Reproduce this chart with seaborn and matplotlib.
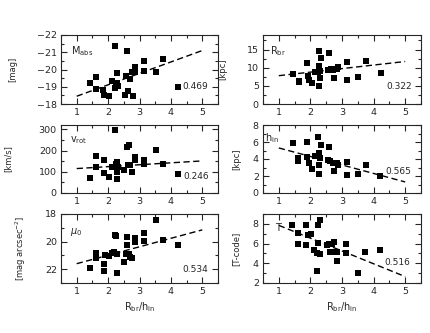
import numpy as np
import pandas as pd
import matplotlib
matplotlib.use("Agg")
import matplotlib.pyplot as plt
from matplotlib.ticker import MultipleLocator
import seaborn as sns

# ---------------- data ----------------
mabs_x = [1.42, 1.61, 1.61, 1.85, 1.88, 2.02, 2.11, 2.24, 2.27, 2.22, 2.29, 2.22, 2.32,
          2.59, 2.57, 2.53, 2.62, 2.69, 2.75, 2.78, 2.85, 2.87, 3.15, 3.15, 3.52, 3.75, 4.23]
mabs_y = [-19.2, -19.55, -18.87, -18.8, -18.52, -18.48, -19.35, -19.16, -19.78, -21.38, -19.2, -18.93, -19.06,
          -21.05, -19.64, -18.54, -18.77, -19.45, -19.87, -18.48, -19.84, -20.13, -20.47, -19.9, -19.87, -20.6, -19.0]

rbr_x = [1.44, 1.63, 1.63, 1.89, 1.92, 1.95, 2.06, 2.13, 2.24, 2.26, 2.27, 2.29, 2.27, 2.32, 2.30,
         2.55, 2.60, 2.66, 2.73, 2.76, 2.84, 2.88, 3.15, 3.15, 3.52, 3.76, 4.24]
rbr_y = [8.25, 6.4, 6.1, 11.25, 7.8, 6.65, 5.9, 8.9, 8.9, 14.6, 10.6, 7.1, 5.0, 12.75, 9.2,
         9.4, 14.05, 9.65, 9.4, 7.1, 9.65, 10.3, 11.5, 6.65, 7.3, 11.8, 8.5]

vrot_x = [1.42, 1.61, 1.61, 1.88, 1.88, 2.02, 2.11, 2.22, 2.25, 2.27, 2.29, 2.29, 2.32,
          2.51, 2.59, 2.67, 2.63, 2.69, 2.75, 2.85, 2.85, 3.15, 3.15, 3.52, 3.75, 4.23]
vrot_y = [72, 174, 122, 157, 94, 75, 122, 298, 138, 99, 146, 67, 122,
          107, 217, 224, 130, 130, 99, 170, 154, 157, 138, 204, 138, 91]

hin_x = [1.45, 1.62, 1.62, 1.89, 1.90, 1.94, 2.04, 2.13, 2.23, 2.26, 2.27, 2.27, 2.32, 2.29,
         2.55, 2.60, 2.63, 2.71, 2.76, 2.84, 2.88, 3.16, 3.16, 3.52, 3.76, 4.21]
hin_y = [5.83, 4.06, 3.8, 6.0, 4.25, 3.54, 2.87, 4.33, 6.62, 4.72, 3.27, 2.2, 5.63, 4.06,
         3.86, 5.43, 3.78, 3.54, 2.6, 3.54, 3.27, 3.66, 2.17, 2.2, 3.27, 2.0]

mu0_x = [1.42, 1.61, 1.61, 1.88, 1.88, 1.90, 2.02, 2.11, 2.22, 2.25, 2.20, 2.29, 2.29,
         2.51, 2.59, 2.59, 2.57, 2.67, 2.69, 2.75, 2.85, 2.85, 3.15, 3.15, 3.52, 3.75, 4.23]
mu0_y = [21.9, 20.8, 21.2, 21.6, 22.1, 20.95, 21.05, 20.8, 19.5, 19.6, 20.75, 20.9, 22.3,
         21.5, 19.7, 20.25, 20.9, 20.9, 21.15, 21.2, 19.75, 20.0, 19.4, 19.95, 18.45, 19.85, 20.25]

tt_x = [1.42, 1.61, 1.61, 1.86, 1.86, 1.93, 2.02, 2.10, 2.21, 2.24, 2.29, 2.24, 2.29, 2.21,
        2.53, 2.58, 2.63, 2.68, 2.76, 2.76, 2.84, 2.84, 3.14, 3.14, 3.50, 3.74, 4.21]
tt_y = [7.9, 7.1, 6.0, 7.85, 5.83, 6.83, 7.0, 5.3, 5.0, 7.9, 8.35, 6.1, 4.97, 3.17,
        5.83, 6.0, 5.1, 6.0, 6.2, 5.1, 5.1, 4.28, 5.93, 5.0, 3.0, 5.1, 5.35]

fit_x = [1.0, 5.0]
fit_mabs = [-18.45, -21.1]
fit_rbr = [7.8, 11.7]
fit_vrot = [115, 151]
fit_hin = [5.3, 1.3]
fit_mu0 = [21.6, 19.15]
fit_tt = [7.85, 2.65]

names = ["M$_{\\rm abs}$", "R$_{\\rm br}$", "v$_{\\rm rot}$", "h$_{\\rm in}$", "$\\mu_0$", "T"]
units = ["[mag]", "[kpc]", "[km/s]", "[kpc]", "[mag arcsec$^{-2}$]", "[T-code]"]
coeffs = ["0.469", "0.322", "0.246", "0.565", "0.534", "0.516"]
xlabel = "R$_{\\rm br}$/h$_{\\rm in}$"

# ---------------- styling ----------------
sns.set_style("ticks")
plt.rcParams["font.family"] = ["DejaVu Sans"]
plt.rcParams["mathtext.fontset"] = "dejavusans"
plt.rcParams["font.size"] = 7

W, H = 430, 333
fig = plt.figure(figsize=(W / 100, H / 100), dpi=100)

cols = [(61, 218), (263, 421)]
rows = [(35, 104), (125, 193), (214, 283)]

# ylim, major, minor, name pos, coeff pos, ylabel x (axes coords)
panels = [
    (mabs_x, mabs_y, fit_mabs, (-18, -22), 1, 0.5, (0.064, 0.76), (0.94, 0.26), -0.28),
    (rbr_x, rbr_y, fit_rbr, (0, 19), 5, 2.5, (0.045, 0.76), (0.94, 0.26), -0.228),
    (vrot_x, vrot_y, fit_vrot, (0, 320), 100, 50, (0.06, 0.78), (0.94, 0.24), -0.31),
    (hin_x, hin_y, fit_hin, (0, 8), 2, 1, (0.015, 0.81), (0.94, 0.31), -0.135),
    (mu0_x, mu0_y, fit_mu0, (23, 18), 2, 1, (0.057, 0.74), (0.94, 0.20), -0.21),
    (tt_x, tt_y, fit_tt, (2, 9), 2, 1, (0.076, 0.80), (0.93, 0.295), -0.146),
]

for i, (px, py, fy, ylim, maj, mnr, lpos, cpos, ylx) in enumerate(panels):
    r, c = divmod(i, 2)
    x0, x1 = cols[c]
    y0, y1 = rows[r]
    ax = fig.add_axes([x0 / W, 1 - y1 / H, (x1 - x0) / W, (y1 - y0) / H])
    df = pd.DataFrame({"x": px, "y": py})
    sns.scatterplot(data=df, x="x", y="y", marker="s", s=24, color="black",
                    edgecolor="black", linewidth=0, ax=ax, zorder=3)
    fdf = pd.DataFrame({"x": fit_x, "y": fy})
    sns.lineplot(data=fdf, x="x", y="y", color="black", lw=1.0, ax=ax,
                 dashes=False, zorder=2).lines[-1].set_dashes([4.5, 2.5])
    ax.set_xlim(0.5, 5.5)
    ax.set_ylim(*ylim)
    ax.xaxis.set_major_locator(MultipleLocator(1))
    ax.xaxis.set_minor_locator(MultipleLocator(0.5))
    ax.yaxis.set_major_locator(MultipleLocator(maj))
    ax.yaxis.set_minor_locator(MultipleLocator(mnr))
    ax.tick_params(which="both", direction="in", top=True, right=True,
                   width=0.8, labelsize=6.8, pad=3)
    ax.tick_params(which="major", length=4)
    ax.tick_params(which="minor", length=2)
    for sp in ax.spines.values():
        sp.set_linewidth(0.8)
    ax.set_ylabel(units[i], fontsize=6)
    ax.yaxis.set_label_coords(ylx, 0.5)
    if r == 2:
        ax.set_xlabel(xlabel, fontsize=7, labelpad=3)
    else:
        ax.set_xlabel("")
    ax.text(lpos[0], lpos[1], names[i], transform=ax.transAxes, fontsize=7,
            ha="left", va="center")
    ax.text(cpos[0], cpos[1], coeffs[i], transform=ax.transAxes, fontsize=6.5,
            ha="right", va="center")

fig.savefig("out.png", dpi=100)
